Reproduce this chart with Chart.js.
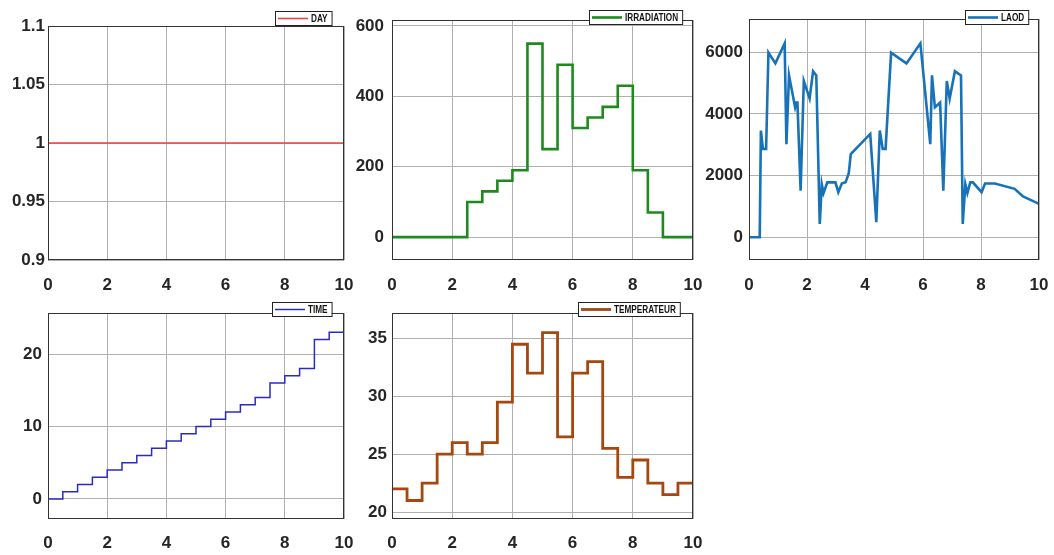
<!DOCTYPE html>
<html><head><meta charset="utf-8">
<script src="https://cdn.jsdelivr.net/npm/chart.js@4.4.1/dist/chart.umd.min.js"></script>
<style>
html,body{margin:0;padding:0;background:#fff;}
body{width:1054px;height:555px;position:relative;overflow:hidden;}
.p{position:absolute;}
</style></head><body>
<div class="p" id="w1"><canvas id="c1"></canvas></div>
<div class="p" id="w2"><canvas id="c2"></canvas></div>
<div class="p" id="w3"><canvas id="c3"></canvas></div>
<div class="p" id="w4"><canvas id="c4"></canvas></div>
<div class="p" id="w5"><canvas id="c5"></canvas></div>
<script>
// ---------- data ----------
const xTicks = [0, 2, 4, 6, 8, 10];
const stepX = [0,0.5,1,1.5,2,2.5,3,3.5,4,4.5,5,5.5,6,6.5,7,7.5,8,8.5,9,9.5,10];
const dayX = [0, 10];
const dayY = [1, 1];
const irradiation = [0,0,0,0,0,100,130,160,190,550,250,490,310,340,370,430,190,70,0,0,0];
const laodX = [0,0.37,0.41,0.48,0.59,0.67,0.91,1.23,1.29,1.38,1.59,1.63,1.67,1.78,1.89,2.09,2.21,2.32,2.44,2.51,2.57,2.70,2.98,3.08,3.20,3.33,3.44,3.51,4.18,4.39,4.51,4.61,4.71,4.90,5.43,5.91,6.25,6.31,6.41,6.59,6.70,6.82,6.92,7.10,7.31,7.37,7.46,7.53,7.63,7.72,8.02,8.14,8.48,9.16,9.45,10];
const laodY = [0,0,3460,2865,2865,5990,5640,6290,3020,5250,4215,4365,4365,1510,5070,4500,5385,5250,430,1720,1430,1780,1780,1460,1740,1780,2080,2700,3350,490,3460,2865,2865,5990,5640,6290,3020,5250,4215,4365,1510,5070,4500,5385,5250,430,1720,1430,1780,1780,1460,1740,1740,1570,1320,1080];
const timeY = [0,1,2,3,4,5,6,7,8,9,10,11,12,13,14,16,17,18,22,23,23];
const temperature = [22,21,22.5,25,26,25,26,29.5,34.5,32,35.5,26.5,32,33,25.5,23,24.5,22.5,21.5,22.5,22.5];
const yTicksDay = [0.9, 0.95, 1, 1.05, 1.1];
const yTicksIrr = [0, 200, 400, 600];
const yTicksLaod = [0, 2000, 4000, 6000];
const yTicksTime = [0, 10, 20];
const yTicksTemp = [20, 25, 30, 35];

// ---------- styling helpers ----------
const tickFont = {family: "'Liberation Sans', Arial, sans-serif", size: 17, weight: 'bold'};
const tickColor = '#262626';
const gridColor = '#b0b0b0';

const boxLegend = {
  id: 'boxLegend',
  afterDraw(chart, args, o) {
    const ctx = chart.ctx, a = chart.chartArea;
    ctx.save();
    ctx.strokeStyle = '#333';
    ctx.lineWidth = 1;
    ctx.strokeRect(Math.round(a.left) + 0.5, Math.round(a.top) + 0.5, Math.round(a.right - a.left) - 1, Math.round(a.bottom - a.top) - 1);
    if (o && o.label) {
      ctx.font = "bold 10px 'Liberation Sans', Arial, sans-serif";
      const sx = 0.82;
      const tw = ctx.measureText(o.label).width * sx;
      const bw = 3 + 30 + 3 + tw + 4;
      const bh = 14;
      const bx = Math.round(a.right - o.inset - bw);
      const by = Math.round(a.top - o.offset);
      ctx.fillStyle = '#fff';
      ctx.fillRect(bx, by, bw, bh);
      ctx.strokeStyle = '#222';
      ctx.strokeRect(bx + 0.5, by + 0.5, bw, bh);
      ctx.strokeStyle = o.color;
      ctx.lineWidth = o.lw;
      ctx.beginPath();
      ctx.moveTo(bx + 3, by + bh / 2 + 0.5);
      ctx.lineTo(bx + 33, by + bh / 2 + 0.5);
      ctx.stroke();
      ctx.fillStyle = '#111';
      ctx.textBaseline = 'middle';
      ctx.translate(bx + 36, by + bh / 2 + 1);
      ctx.scale(sx, 1);
      ctx.fillText(o.label, 0, 0);
    }
    ctx.restore();
  }
};

function pts(xs, ys) { return xs.map((x, i) => ({x: x, y: ys[i]})); }

function makePanel(id, g, dataset, yMin, yMax, yTicks, yPad, xPad, legend) {
  const padT = 20, padR = 14, yW = 48, xH = 36;
  const wrap = document.getElementById('w' + id);
  wrap.style.left = (g.l - yW) + 'px';
  wrap.style.top = (g.t - padT) + 'px';
  wrap.style.width = (g.r - g.l + yW + padR) + 'px';
  wrap.style.height = (g.b - g.t + padT + xH) + 'px';
  new Chart(document.getElementById('c' + id), {
    type: 'line',
    data: {datasets: [dataset]},
    options: {
      responsive: true, maintainAspectRatio: false, animation: false,
      layout: {padding: {top: padT, right: padR, left: 0, bottom: 0}},
      elements: {point: {radius: 0}, line: {tension: 0}},
      plugins: {legend: {display: false}, tooltip: {enabled: false}, boxLegend: legend},
      scales: {
        x: {
          type: 'linear', min: 0, max: 10,
          afterBuildTicks: s => { s.ticks = xTicks.map(v => ({value: v})); },
          afterFit: s => { s.height = xH; s.paddingLeft = 0; s.paddingRight = 0; },
          grid: {color: gridColor, drawTicks: false, lineWidth: 1},
          border: {display: false},
          ticks: {padding: xPad, font: tickFont, color: tickColor, maxRotation: 0, autoSkip: false, callback: v => String(v)}
        },
        y: {
          type: 'linear', min: yMin, max: yMax,
          afterBuildTicks: s => { s.ticks = yTicks.map(v => ({value: v})); },
          afterFit: s => { s.width = yW; s.paddingTop = 0; s.paddingBottom = 0; },
          grid: {color: gridColor, drawTicks: false, lineWidth: 1},
          border: {display: false},
          ticks: {padding: yPad, font: tickFont, color: tickColor, autoSkip: false, callback: v => String(v)}
        }
      }
    },
    plugins: [boxLegend]
  });
}

makePanel(1, {l: 48, r: 344, t: 26, b: 260},
  {data: pts(dayX, dayY), borderColor: '#e8453c', borderWidth: 1.6},
  0.9, 1.1, yTicksDay, 3, 15, {label: 'DAY', color: '#e8453c', lw: 1.6, inset: 12, offset: 15});

makePanel(2, {l: 392, r: 693, t: 20, b: 260},
  {data: pts(stepX, irradiation), borderColor: '#1e8a1e', borderWidth: 2.6, stepped: 'before'},
  -65, 617, yTicksIrr, 8, 15, {label: 'IRRADIATION', color: '#1e8a1e', lw: 2.6, inset: 11, offset: 10});

makePanel(3, {l: 749, r: 1039, t: 19, b: 260},
  {data: pts(laodX, laodY), borderColor: '#1872b8', borderWidth: 2.6},
  -740, 7080, yTicksLaod, 6, 15, {label: 'LAOD', color: '#1872b8', lw: 2.6, inset: 11, offset: 9});

makePanel(4, {l: 48, r: 344, t: 313, b: 519},
  {data: pts(stepX, timeY), borderColor: '#2b2bc4', borderWidth: 1.5, stepped: 'before'},
  -2.76, 25.66, yTicksTime, 6, 14, {label: 'TIME', color: '#2b2bc4', lw: 1.5, inset: 12, offset: 11});

makePanel(5, {l: 392, r: 693, t: 313, b: 519},
  {data: pts(stepX, temperature), borderColor: '#a5470f', borderWidth: 2.8, stepped: 'before'},
  19.4, 37.2, yTicksTemp, 5, 14, {label: 'TEMPERATEUR', color: '#a5470f', lw: 2.8, inset: 13, offset: 11});
</script>
</body></html>
